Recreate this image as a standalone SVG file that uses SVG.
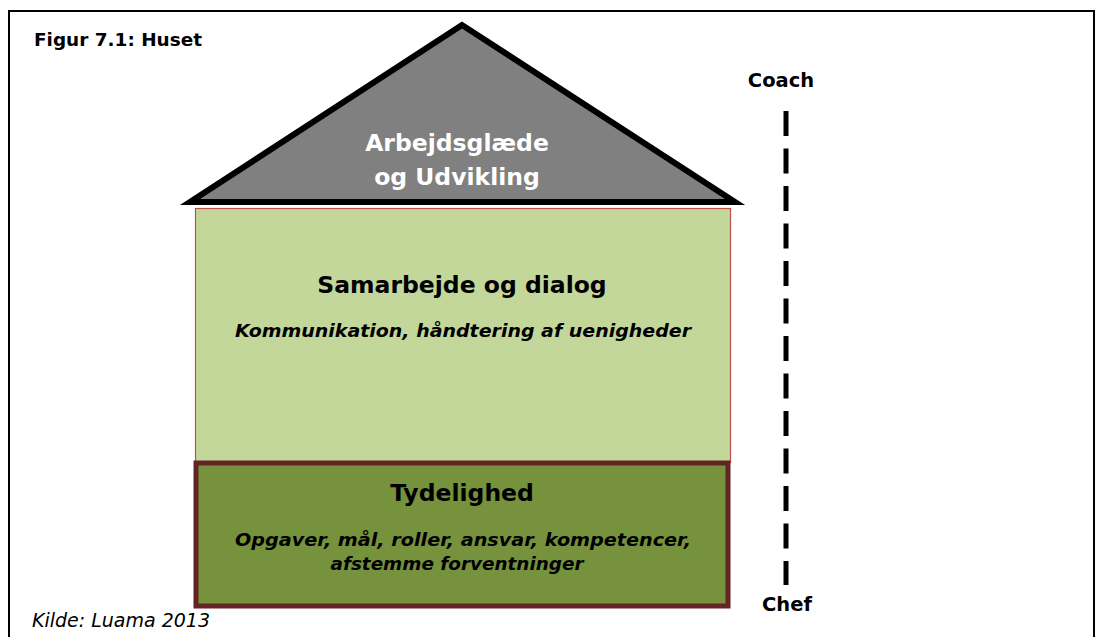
<svg xmlns="http://www.w3.org/2000/svg" width="1097" height="637" viewBox="0 0 1097 637">
<style>
text{font-family:"DejaVu Sans","Liberation Sans",sans-serif;}
.b{font-weight:bold;}
.t{font-size:23.5px;font-weight:bold;text-anchor:middle;}
.s{font-size:18px;font-weight:bold;font-style:italic;text-anchor:middle;}
</style>
<rect width="1097" height="637" fill="#fff"/>
<path d="M9 640 V11 H1094 V640" fill="none" stroke="#000" stroke-width="2"/>
<text x="34" y="46" class="b" font-size="17.5" textLength="168" lengthAdjust="spacingAndGlyphs">Figur 7.1: Huset</text>
<g id="roof">
<polygon points="462,25 190,202 735,202" fill="#808080" stroke="#000" stroke-width="6" stroke-linejoin="miter"/>
<text x="457" y="151" class="t" fill="#fff">Arbejdsglæde</text>
<text x="457" y="185" class="t" fill="#fff">og Udvikling</text>
</g>
<g id="samarbejde">
<rect x="195.5" y="208.5" width="535" height="254" fill="#c4d79b" stroke="#c0504d" stroke-width="1.2"/>
<text x="462" y="293" class="t" fill="#000">Samarbejde og dialog</text>
<text x="463" y="337" class="s" fill="#000" textLength="456" lengthAdjust="spacingAndGlyphs">Kommunikation, håndtering af uenigheder</text>
</g>
<g id="tydelighed">
<rect x="196" y="463" width="532" height="143" fill="#76923c" stroke="#632523" stroke-width="5"/>
<text x="462" y="501" class="t" fill="#000">Tydelighed</text>
<text x="463" y="546" class="s" fill="#000" textLength="456" lengthAdjust="spacingAndGlyphs">Opgaver, mål, roller, ansvar, kompetencer,</text>
<text x="457" y="570" class="s" fill="#000" textLength="253" lengthAdjust="spacingAndGlyphs">afstemme forventninger</text>
</g>
<g id="connectors">
<line x1="786" y1="111" x2="786" y2="585" stroke="#000" stroke-width="5" stroke-dasharray="25 12.5"/>
</g>
<g id="coach"><text x="781" y="87" class="b" font-size="19.5" text-anchor="middle">Coach</text></g>
<g id="chef"><text x="787" y="611" class="b" font-size="19.5" text-anchor="middle">Chef</text></g>
<text x="32" y="627" font-size="19" font-style="italic">Kilde: Luama 2013</text>
</svg>
